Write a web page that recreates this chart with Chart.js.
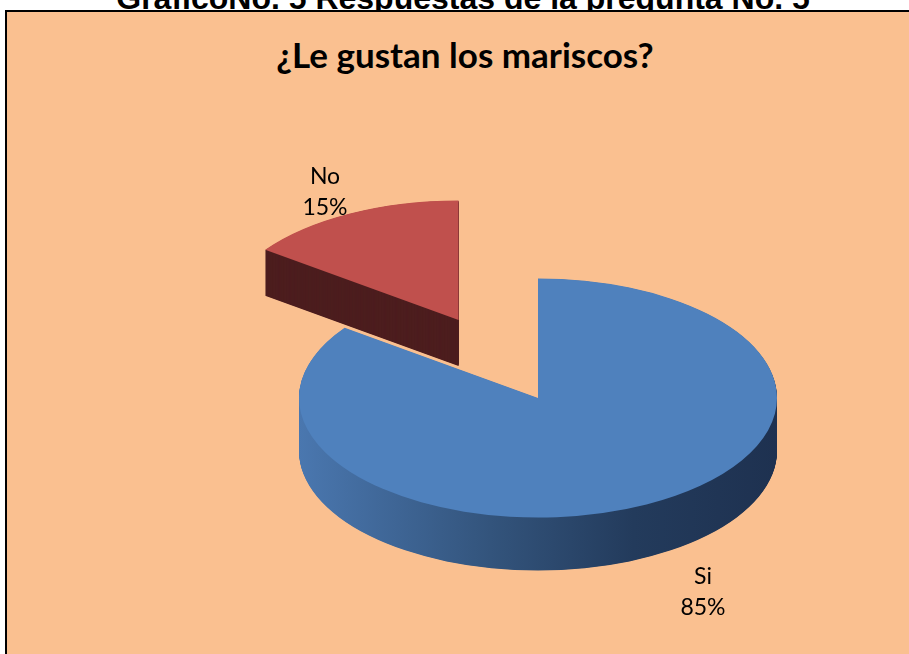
<!DOCTYPE html>
<html lang="es">
<head>
<meta charset="utf-8">
<title>Gráfico No. 5</title>
<script src="https://cdn.jsdelivr.net/npm/chart.js@4.4.1/dist/chart.umd.min.js"></script>
<style>
    html, body { margin: 0; padding: 0; background: #fff; overflow: hidden; width: 909px; height: 654px; }
    #encabezado {
        position: absolute; left: 0; top: -18px; width: 926px;
        text-align: center; white-space: nowrap;
        font: bold 32px "Liberation Sans", Arial, sans-serif; line-height: 32px; color: #000;
    }
    #marco {
        position: absolute; left: 5px; top: 10px; width: 930px; height: 700px;
        background: #FAC090; border: 2px solid #000;
    }
    #titulo {
        position: absolute; left: 0; top: 33px; width: 930px;
        text-align: center; white-space: nowrap;
        font: bold 35px Lato, "Open Sans", sans-serif; line-height: 42px; color: #000;
    }
    #lienzo { position: absolute; left: 0; top: 0; }
</style>
</head>
<body>
<div id="encabezado">GraficoNo. 5 Respuestas de la pregunta No. 5</div>
<div id="marco"></div>
<div id="titulo">¿Le gustan los mariscos?</div>
<canvas id="lienzo" width="909" height="720"></canvas>

<script>
// ============= DATOS =============
const categorias = ['Si', 'No'];
const valores = [85, 15];

// ============= COLORES =============
const COLORES = {
    azul:      '#4F81BD',
    rojo:      '#C0504D',
    rojoLado:  '#4D1E1F'
};

// pastel 3D: aplana el círculo y le pone el costado
const pastel3D = {
    id: 'pastel3D',
    beforeDatasetsDraw(chart, args, opts) {
        const ctx = chart.ctx;
        const arcos = chart.getDatasetMeta(0).data;
        const cy = arcos[0].y;
        const k = opts.inclinacion;

        // primero la porción de atrás (No), luego la de adelante (Si)
        [1, 0].forEach(i => {
            const arco = arcos[i];
            const medio = (arco.startAngle + arco.endAngle) / 2;
            const dx = Math.cos(medio) * opts.separacion[i];
            const dy = Math.sin(medio) * opts.separacion[i];

            ctx.save();
            ctx.translate(0, cy);
            ctx.scale(1, k);
            ctx.translate(0, -cy);
            ctx.translate(dx, dy);

            let lado;
            if (i === 0) {
                lado = ctx.createLinearGradient(arco.x - arco.outerRadius, 0, arco.x + arco.outerRadius, 0);
                lado.addColorStop(0,    '#4A77AF');
                lado.addColorStop(0.4,  '#33547C');
                lado.addColorStop(0.7,  '#233B5C');
                lado.addColorStop(1,    '#1E3150');
            } else {
                lado = COLORES.rojoLado;
            }
            ctx.fillStyle = lado;

            const prof = opts.profundidad[i] / k;
            for (let d = prof; d > 0; d -= 1) {
                ctx.beginPath();
                ctx.moveTo(arco.x, arco.y + d);
                ctx.arc(arco.x, arco.y + d, arco.outerRadius, arco.startAngle, arco.endAngle);
                ctx.closePath();
                ctx.fill();
            }
            arco.draw(ctx);
            ctx.restore();
        });
        return false;
    }
};

// etiquetas nombre + porcentaje
const etiquetas = {
    id: 'etiquetas',
    afterDraw(chart, args, opts) {
        const ctx = chart.ctx;
        const total = valores.reduce((a, b) => a + b, 0);
        ctx.save();
        ctx.font = opts.fuente;
        ctx.fillStyle = '#000';
        ctx.textAlign = 'center';
        ctx.textBaseline = 'middle';
        categorias.forEach((c, i) => {
            const [x, y] = opts.posiciones[i];
            ctx.fillText(c, x, y);
            ctx.fillText(Math.round(valores[i] / total * 100) + '%', x, y + opts.interlinea);
        });
        ctx.restore();
    }
};

document.addEventListener('DOMContentLoaded', () => {
    const ctxPastel = document.getElementById('lienzo');
    if (!ctxPastel || typeof Chart === 'undefined') return;

    new Chart(ctxPastel, {
        type: 'pie',
        data: {
            labels: categorias,
            datasets: [{
                data: valores,
                backgroundColor: [COLORES.azul, COLORES.rojo],
                borderWidth: 0
            }]
        },
        options: {
            responsive: false,
            animation: false,
            radius: 239,
            layout: { padding: { left: 167, right: 0, top: 76, bottom: 0 } },
            plugins: {
                legend: { display: false },
                tooltip: { enabled: false },
                pastel3D: {
                    inclinacion: 0.5,
                    separacion: [0, 175],
                    profundidad: [53, 46]
                },
                etiquetas: {
                    fuente: '23px Lato, "Open Sans", sans-serif',
                    posiciones: [[703, 577], [325, 177]],
                    interlinea: 31
                }
            }
        },
        plugins: [pastel3D, etiquetas]
    });
});
</script>
</body>
</html>
